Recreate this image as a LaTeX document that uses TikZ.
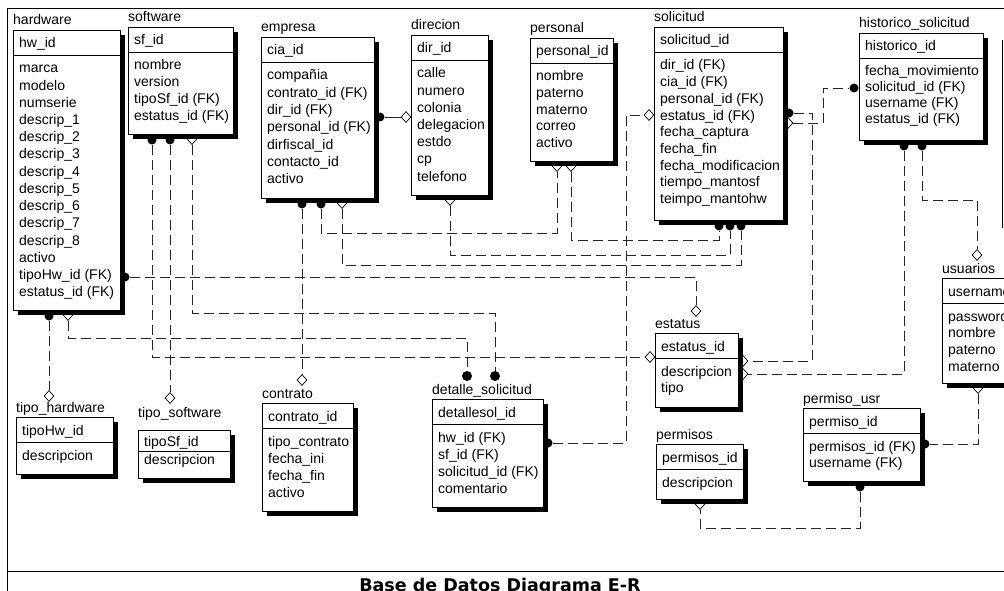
\documentclass[tikz,border=0pt]{standalone}
\usepackage{fontspec}
\setmainfont{Liberation Sans}
\newfontfamily\headfont{DejaVu Sans}
\usetikzlibrary{shapes.geometric}

\pgfdeclarelayer{bg}
\pgfdeclarelayer{mid}
\pgfsetlayers{bg,mid,main}

\pgfkeys{/ent/.cd,
  pitch/.store in=\entpitch, sep/.store in=\entsep,
  keyoff/.store in=\entkey, rowoff/.store in=\entrow,
  titleoff/.store in=\enttitle}

\tikzset{
  entshadow/.style={fill=black},
  entbox/.style={draw=black, fill=white, line width=0.8pt, anchor=north west, inner sep=0pt},
  entline/.style={line width=0.8pt},
  enttext/.style={anchor=base west, inner sep=0pt, font=\fontsize{14}{17}\selectfont},
  dotsym/.style={circle, fill=black, inner sep=0pt, minimum size=9pt},
  dmdsym/.style={diamond, draw=black, fill=white, line width=0.7pt, inner sep=0pt,
    minimum width=10pt, minimum height=11pt},
  rel/.style={draw=black!85, line width=0.8pt, dash pattern=on 10pt off 5pt},
  solidrel/.style={draw=black!85, line width=0.8pt},
  frame/.style={draw=black, line width=0.8pt}
}

% entity: [options]{name}{x}{y}{width}{height}{title}{key}{attribute list}
\newcommand\erent[9][]{%
  \begingroup
  \pgfkeys{/ent/.cd,pitch=17,sep=25,keyoff=18,rowoff=18,titleoff=5,#1}%
  \fill[entshadow] (#3+5,#4+5) rectangle (#3+#5+5,#4+#6+5);
  \node[entbox,minimum width=#5pt,minimum height=#6pt] (#2) at (#3,#4) {};
  \draw[entline] (#3,#4+\entsep) -- (#3+#5,#4+\entsep);
  \node[enttext] (#2-title) at (#3,#4-\enttitle) {#7};
  \node[enttext] (#2-key) at (#3+6,#4+\entkey) {#8};
  \foreach \rowtxt [count=\rowno] in {#9}
    \node[enttext] (#2-\rowno) at (#3+6,#4+\entsep+\entrow+\entpitch*\rowno-\entpitch) {\rowtxt};
  \endgroup}

\begin{document}
\begin{tikzpicture}[x=1pt,y=-1pt]
\useasboundingbox (0,0) rectangle (1004,591);
\clip (0,0) rectangle (1004,591);

% ---------- entities ----------
\erent[pitch=17.2]{hardware}{13}{30}{107}{280}{hardware}{hw\_id}{marca,modelo,numserie,descrip\_1,descrip\_2,descrip\_3,descrip\_4,descrip\_5,descrip\_6,descrip\_7,descrip\_8,activo,tipoHw\_id (FK),estatus\_id (FK)}
\erent[pitch=16.7]{software}{128}{27}{105}{107}{software}{sf\_id}{nombre,version,tipoSf\_id (FK),estatus\_id (FK)}
\erent[pitch=17.3]{empresa}{261}{37}{113}{161}{empresa}{cia\_id}{compañia,contrato\_id (FK),dir\_id (FK),personal\_id (FK),dirfiscal\_id,contacto\_id,activo}
\erent[pitch=17.2]{direcion}{411}{35}{77}{160}{direcion}{dir\_id}{calle,numero,colonia,delegacion,estdo,cp,telefono}
\erent[pitch=16.6]{personal}{530}{38}{83}{123}{personal}{personal\_id}{nombre,paterno,materno,correo,activo}
\erent[pitch=16.7]{solicitud}{654}{27}{129}{193}{solicitud}{solicitud\_id}{dir\_id (FK),cia\_id (FK),personal\_id (FK),estatus\_id (FK),fecha\_captura,fecha\_fin,fecha\_modificacion,tiempo\_mantosf,teimpo\_mantohw}
\erent[pitch=16]{historico}{859}{33}{124}{107}{historico\_solicitud}{historico\_id}{fecha\_movimiento,solicitud\_id (FK),username (FK),estatus\_id (FK)}
\erent[pitch=16.7]{usuarios}{942}{278}{80}{105}{usuarios}{username}{password,nombre,paterno,materno}
\erent[pitch=16.5]{estatus}{655}{333}{83}{74}{estatus}{estatus\_id}{descripcion,tipo}
\erent[pitch=16]{permisousr}{803}{408}{117}{73}{permiso\_usr}{permiso\_id}{permisos\_id (FK),username (FK)}
\erent{permisos}{656}{444}{87}{55}{permisos}{permisos\_id}{descripcion}
\erent{detalle}{432}{399}{111}{108}{detalle\_solicitud}{detallesol\_id}{hw\_id (FK),sf\_id (FK),solicitud\_id (FK),comentario}
\erent{contrato}{262}{403}{91}{108}{contrato}{contrato\_id}{tipo\_contrato,fecha\_ini,fecha\_fin,activo}
\erent{tipohw}{16}{417}{97}{57}{tipo\_hardware}{tipoHw\_id}{descripcion}
\erent[sep=21,keyoff=16,rowoff=13,titleoff=13]{tiposw}{138}{430}{92}{48}{tipo\_software}{tipoSf\_id}{descripcion}

% ---------- frame and title ----------
\node[anchor=base, inner sep=0pt, font={\headfont\bfseries\fontsize{17.5}{20}\selectfont}] (diagtitle) at (500,591) {Base de Datos Diagrama E-R};

% ---------- relationship ends ----------
\begin{pgfonlayer}{mid}
\node[dotsym] (hw-d1) at (49,316) {};
\node[dmdsym] (hw-m) at (68,315) {};
\node[dotsym] (hw-rd) at (125,277) {};
\node[dotsym] (sw-d1) at (152,140) {};
\node[dotsym] (sw-d2) at (170,140) {};
\node[dmdsym] (sw-m) at (192,139) {};
\node[dotsym] (em-d1) at (302,204) {};
\node[dotsym] (em-d2) at (321,204) {};
\node[dmdsym] (em-m) at (342,203) {};
\node[dotsym] (em-rd) at (380,117) {};
\node[dmdsym] (di-lm) at (406,117) {};
\node[dmdsym] (di-m) at (450,200) {};
\node[dmdsym] (pe-m1) at (557,166) {};
\node[dmdsym] (pe-m2) at (571,166) {};
\node[dotsym] (so-d1) at (719,226) {};
\node[dotsym] (so-d2) at (730,226) {};
\node[dotsym] (so-d3) at (741,226) {};
\node[dmdsym] (so-lm) at (649,115) {};
\node[dotsym] (so-rd) at (789,113) {};
\node[dmdsym] (so-rm) at (788,123) {};
\node[dotsym] (hs-ld) at (854,88) {};
\node[dotsym] (hs-d1) at (904,146) {};
\node[dotsym] (hs-d2) at (922,146) {};
\node[dmdsym] (us-tm) at (977,255) {};
\node[dmdsym] (us-m) at (978,388) {};
\node[dmdsym] (es-tm) at (696,311) {};
\node[dmdsym] (es-lm) at (650,357) {};
\node[dmdsym] (es-rm1) at (743,361) {};
\node[dmdsym] (es-rm2) at (743,374) {};
\node[dotsym] (pu-rd) at (925,444) {};
\node[dotsym] (pu-bd) at (860,487) {};
\node[dmdsym] (pm-m) at (700,504) {};
\node[dotsym,minimum size=10pt] (ds-d1) at (467,376) {};
\node[dotsym,minimum size=10pt] (ds-d2) at (495,376) {};
\node[dotsym] (ds-rd) at (548,443) {};
\node[dmdsym] (ct-m) at (302,380) {};
\node[dmdsym] (th-m) at (49,396) {};
\node[dmdsym] (ts-m) at (170,398) {};
\end{pgfonlayer}

% ---------- relationships ----------
\begin{pgfonlayer}{bg}
\draw[frame] (7,591) -- (7,8) -- (1004,8);
\draw[frame] (7,571) -- (1004,571);
\draw[frame] (1002,40) -- (1002,228);

\draw[rel] (hw-d1) -- (th-m);
\draw[rel] (hw-m) -- (hw-m |- 0,338) -| (ds-d1);
\draw[rel] (sw-m) -- (sw-m |- 0,313) -| (ds-d2);
\draw[rel] (sw-d1) -- (sw-d1 |- es-lm) -- (es-lm);
\draw[rel] (sw-d2) -- (ts-m);
\draw[rel] (hw-rd) -| (es-tm);
\draw[rel] (em-d1) -- (ct-m);
\draw[rel] (em-d2) -- (em-d2 |- 0,233) -| (pe-m1);
\draw[rel] (em-m) -- (em-m |- 0,265) -| (so-d3);
\draw[rel] (di-m) -- (di-m |- 0,255) -| (so-d2);
\draw[rel] (pe-m2) -- (pe-m2 |- 0,240) -| (so-d1);
\draw[solidrel] (em-rd) -- (di-lm);
\draw[rel] (ds-rd) -- (ds-rd -| 626,0) |- (so-lm);
\draw[rel] (so-rd) -- (so-rd -| 812,0) |- (es-rm1);
\draw[rel] (so-rm) -- (so-rm -| 823,0) |- (hs-ld);
\draw[rel] (hs-d1) |- (es-rm2);
\draw[rel] (hs-d2) -- (hs-d2 |- 0,200) -| (us-tm);
\draw[rel] (us-m) |- (pu-rd);
\draw[rel] (pu-bd) -- (pu-bd |- 0,528) -| (pm-m);
\end{pgfonlayer}
\end{tikzpicture}
\end{document}
